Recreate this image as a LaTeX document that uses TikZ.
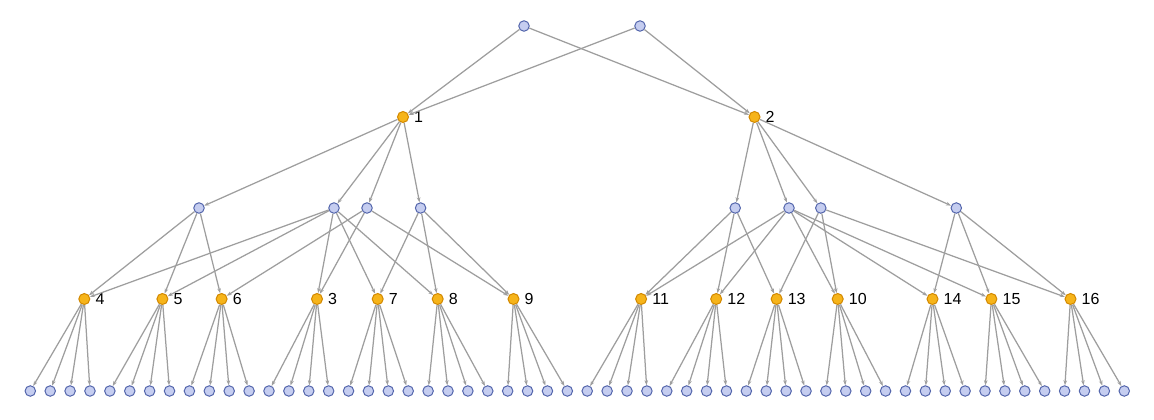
\documentclass[tikz,border=0pt]{standalone}
\usepackage{fontspec}
\setmainfont{Liberation Sans}
\usetikzlibrary{arrows.meta}
\definecolor{vfill}{RGB}{197,205,240}
\definecolor{vdraw}{RGB}{84,102,172}
\definecolor{ofill}{RGB}{246,180,26}
\definecolor{odraw}{RGB}{210,136,0}
\definecolor{arcgray}{RGB}{158,158,158}
\tikzset{
	vtx/.style={circle,fill=vfill,draw=vdraw,line width=1pt,minimum size=10.5pt,inner sep=0pt},
	hit/.style={circle,fill=ofill,draw=odraw,line width=1pt,minimum size=11pt,inner sep=0pt,
		label={[inner sep=0pt,label distance=5pt,font=\fontsize{16}{16}\selectfont]right:#1}},
	arc/.style={draw=arcgray,line width=1.25pt,-{Stealth[length=5pt,width=3.6pt]}}
}

\begin{document}
\begin{tikzpicture}[x=1pt,y=-1pt]
\useasboundingbox (0,0) rectangle (1154,420);

\node[vtx] (t1) at (524,26) {};
\node[vtx] (t2) at (640,26) {};
\node[hit=1] (o1) at (403,117) {};
\node[hit=2] (o2) at (754.5,117) {};

\foreach \i/\x in {1/199,2/334,3/367,4/420.6,5/735.2,6/789,7/820.8,8/956.3}{
	\node[vtx] (m\i) at (\x,208) {};
}

\foreach \i in {0,...,55}{
	\node[vtx] (b\i) at ({30.3+19.89*\i},391) {};
}

\draw[arc] (t1) -- (o1);
\draw[arc] (t1) -- (o2);
\draw[arc] (t2) -- (o1);
\draw[arc] (t2) -- (o2);

\foreach \i in {1,2,3,4}{
	\draw[arc] (o1) -- (m\i);
}
\foreach \i in {5,6,7,8}{
	\draw[arc] (o2) -- (m\i);
}

\foreach \n/\x [count=\k from 0] in {4/84.3,5/162.4,6/221.6,3/317,7/377.7,8/437.7,9/513.5,11/641.1,12/716.2,13/776.6,10/837.7,14/932.5,15/991.4,16/1070.5}{
	\node[hit=\n] (o\n) at (\x,299) {};
	\foreach \j in {0,1,2,3}{
		\pgfmathtruncatemacro\c{4*\k+\j}
		\draw[arc] (o\n) -- (b\c);
	}
}

\foreach \a/\b in {m1/o4,m1/o5,m1/o6,m2/o4,m2/o5,m2/o3,m2/o7,m2/o8,m3/o6,m3/o3,m3/o9,m4/o7,m4/o8,m4/o9,
	m5/o11,m5/o12,m5/o13,m6/o11,m6/o12,m6/o10,m6/o14,m6/o15,m7/o13,m7/o10,m7/o16,m8/o14,m8/o15,m8/o16}{
	\draw[arc] (\a) -- (\b);
}
\end{tikzpicture}
\end{document}
